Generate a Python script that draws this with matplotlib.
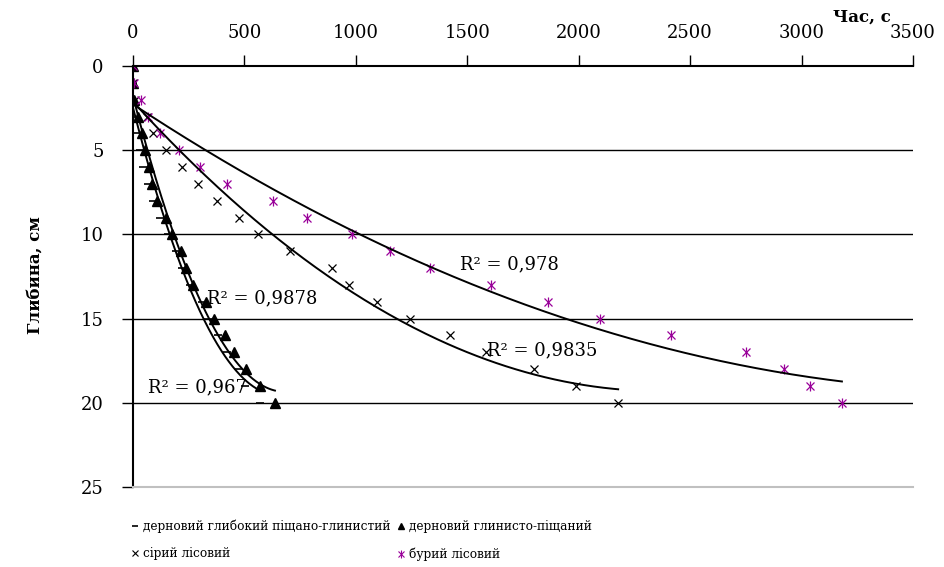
import numpy as np
import matplotlib.pyplot as plt
from matplotlib.lines import Line2D

plt.rcParams['font.family'] = ['DejaVu Serif']

# depth, cm (y) and time, s (x) for each soil
depth = list(range(21))
t_glyb = [0, 0, 0, 10, 16, 30, 46, 69, 91, 121, 158, 195, 218, 256, 308, 338, 383, 420, 472, 502, 570]
t_glyn = [0, 0, 5, 24, 39, 54, 73, 87, 109, 147, 173, 214, 236, 270, 326, 365, 413, 453, 505, 569, 637]
t_siryi = [0, 0, 8, 65, 91, 146, 218, 293, 375, 477, 562, 704, 894, 970, 1093, 1243, 1422, 1582, 1800, 1987, 2177]
t_buryi = [0, 5, 36, 68, 122, 208, 300, 421, 628, 781, 983, 1153, 1332, 1606, 1862, 2095, 2414, 2750, 2921, 3037, 3181]

labels = ['дерновий глибокий піщано-глинистий', 'дерновий глинисто-піщаний',
          'сірий лісовий', 'бурий лісовий']
r2_text = ['R² = 0,967', 'R² = 0,9878', 'R² = 0,9835', 'R² = 0,978']
r2_pos = [(67, 19.1), (332, 13.8), (1588, 16.9), (1467, 11.8)]

magenta = '#990099'

fig = plt.figure(figsize=(9.44, 5.67), dpi=100)
ax = fig.add_axes([133 / 944, 1 - 487 / 567, 780 / 944, 421 / 567])

# points
ax.plot(t_glyb, depth, ls='none', marker='_', color='black', ms=6, mew=1.2)
ax.plot(t_glyn, depth, ls='none', marker='^', color='black', ms=6.5)
ax.plot(t_siryi, depth, ls='none', marker='x', color='black', ms=6, mew=0.9)
ax.plot(t_buryi, depth, ls='none', marker='x', color=magenta, ms=6, mew=0.9)
ax.plot(t_buryi, depth, ls='none', marker='|', color=magenta, ms=7, mew=0.9)

# polynomial trendlines (2nd order, as in the source)
for t in [t_glyb, t_glyn, t_siryi, t_buryi]:
    coef = np.polyfit(t, depth, 2)
    xx = np.linspace(0, max(t), 200)
    ax.plot(xx, np.polyval(coef, xx), color='black', lw=1.4)

for txt, (x, y) in zip(r2_text, r2_pos):
    ax.text(x, y, txt, fontsize=13, va='center', ha='left')

ax.set_xlim(0, 3500)
ax.set_ylim(25, 0)
ax.set_xticks(range(0, 3501, 500))
ax.set_yticks(range(0, 26, 5))
ax.xaxis.tick_top()
ax.tick_params(axis='both', direction='out', length=8, width=1, labelsize=13)
ax.tick_params(axis='x', pad=9)
ax.tick_params(axis='y', pad=13)
for y in [5, 10, 15, 20]:
    ax.axhline(y, color='black', lw=1, zorder=0)

ax.spines['right'].set_visible(False)
ax.spines['bottom'].set_color('#c0c0c0')
ax.spines['bottom'].set_linewidth(1.5)
ax.spines['top'].set_linewidth(1.5)
ax.spines['left'].set_linewidth(1.5)

fig.text(833 / 944, 1 - 17 / 567, 'Час, с', fontsize=12, fontweight='bold', ha='left', va='center')
fig.text(35 / 944, 1 - 275 / 567, 'Глибина, см', fontsize=12, fontweight='bold',
         rotation=90, ha='center', va='center')

handles = [
    Line2D([], [], ls='none', marker='_', color='black', ms=5, mew=1.2),
    Line2D([], [], ls='none', marker='x', color='black', ms=5, mew=0.8),
    Line2D([], [], ls='none', marker='^', color='black', ms=5),
    (Line2D([], [], ls='none', marker='x', color=magenta, ms=5, mew=0.8),
     Line2D([], [], ls='none', marker='|', color=magenta, ms=6, mew=0.8)),
]
fig.legend(handles, [labels[0], labels[2], labels[1], labels[3]], loc='upper left',
           bbox_to_anchor=(120 / 944, 1 - 509 / 567), ncol=2, frameon=False, fontsize=8.7,
           handlelength=0.7, handletextpad=0.3, columnspacing=0.5, labelspacing=1.15)

fig.savefig('out.png', dpi=100)
